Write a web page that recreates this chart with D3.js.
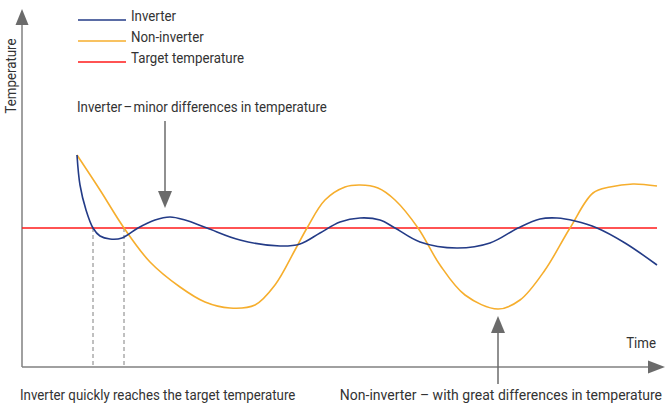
<!DOCTYPE html>
<html>
<head>
<meta charset="utf-8">
<script src="https://cdn.jsdelivr.net/npm/d3@7"></script>
<style>
  body { margin: 0; background: #fff; }
  text { font-family: "Liberation Sans Narrow", "Arial Narrow", "Roboto", sans-serif; fill: #333; }
</style>
</head>
<body>
<svg id="chart" width="667" height="403"></svg>
<script>
// data (time units / temperature units)
const inverterT = [55, 58, 64, 71, 78, 88, 100, 116, 133, 148, 163, 185, 218, 258, 278, 298, 318, 338, 358, 373, 398, 435, 468, 496, 518, 535, 553, 575, 603, 635]
const inverterV = [212, 182, 157, 139, 131, 128, 129, 139, 147, 150, 147, 139, 127, 121, 123, 134, 145, 149, 147, 139, 125, 119, 124, 139, 148, 149, 146, 139, 124, 102]
const nonInverterT = [55, 78, 102, 128, 158, 183, 208, 233, 253, 273, 285, 303, 323, 338, 356, 373, 396, 418, 443, 476, 498, 523, 548, 571, 588, 611, 635]
const nonInverterV = [212, 177, 139, 105, 80, 65, 59, 62, 82, 117, 139, 167, 180, 182, 179, 167, 139, 102, 72, 58, 67, 97, 139, 174, 180, 183, 181]
const targetValue = 139
const quickT = [71, 102]       // dashed markers where inverter reaches target
const legendLabels = ['Inverter', 'Non-inverter', 'Target temperature']

const colours = {
  inverter: '#233b87',
  nonInverter: '#f6ae2d',
  target: '#ff1a1a',
  axis: '#808080',
  arrow: '#6b6b6b'
}

const svg = d3.select('#chart')

const x = d3.scaleLinear().domain([0, 640]).range([22, 662])
const y = d3.scaleLinear().domain([0, 360]).range([367, 7])

// narrow-ish text helper
function label(px, py, str, anchor, sx) {
  return svg.append('text')
    .attr('transform', `translate(${px},${py}) scale(${sx || 0.95},1)`)
    .attr('text-anchor', anchor || 'start')
    .attr('font-size', 14)
    .text(str)
}

// axes
svg.append('line')
  .attr('x1', x(0)).attr('x2', x(630))
  .attr('y1', y(0)).attr('y2', y(0))
  .attr('stroke', colours.axis).attr('stroke-width', 1.5)
svg.append('path')
  .attr('d', `M${x(643)},${y(0)} L${x(626)},${y(0) - 6.5} L${x(626)},${y(0) + 6.5} Z`)
  .attr('fill', colours.arrow)
svg.append('line')
  .attr('x1', x(0)).attr('x2', x(0))
  .attr('y1', y(0)).attr('y2', y(345))
  .attr('stroke', colours.axis).attr('stroke-width', 1.5)
svg.append('path')
  .attr('d', `M${x(0)},${y(358)} L${x(0) - 6.5},${y(342)} L${x(0) + 6.5},${y(342)} Z`)
  .attr('fill', colours.arrow)

svg.append('text')
  .attr('transform', `translate(16,${y(291)}) rotate(-90) scale(0.95,1)`)
  .attr('text-anchor', 'middle')
  .attr('font-size', 14)
  .text('Temperature')
label(656, 348, 'Time', 'end')

// dashed markers
svg.selectAll('line.quick')
  .data(quickT)
  .join('line')
  .attr('class', 'quick')
  .attr('x1', d => x(d)).attr('x2', d => x(d))
  .attr('y1', y(targetValue)).attr('y2', y(0))
  .attr('stroke', '#808080')
  .attr('stroke-dasharray', '4,3')

// target
svg.append('line')
  .attr('x1', x(0)).attr('x2', x(635))
  .attr('y1', y(targetValue)).attr('y2', y(targetValue))
  .attr('stroke', colours.target).attr('stroke-width', 1.5)

const line = d3.line()
  .x(d => x(d[0]))
  .y(d => y(d[1]))
  .curve(d3.curveCatmullRom.alpha(0.5))

svg.append('path')
  .datum(d3.zip(nonInverterT, nonInverterV))
  .attr('d', line)
  .attr('fill', 'none')
  .attr('stroke', colours.nonInverter).attr('stroke-width', 1.6)

svg.append('path')
  .datum(d3.zip(inverterT, inverterV))
  .attr('d', line)
  .attr('fill', 'none')
  .attr('stroke', colours.inverter).attr('stroke-width', 1.6)

// legend
const legendColours = [colours.inverter, colours.nonInverter, colours.target]
const legend = svg.selectAll('g.legend')
  .data(legendLabels)
  .join('g')
  .attr('class', 'legend')
  .attr('transform', (d, i) => `translate(78,${20 + i * 21})`)
legend.append('line')
  .attr('x1', 0).attr('x2', 48)
  .attr('stroke', (d, i) => legendColours[i]).attr('stroke-width', 1.5)
legend.append('text')
  .attr('transform', 'translate(53,1) scale(0.95,1)')
  .attr('font-size', 14)
  .text(d => d)

// annotations
label(77, 112, 'Inverter\u200a\u2013\u200aminor differences in temperature')
svg.append('line')
  .attr('x1', 165).attr('x2', 165).attr('y1', 121).attr('y2', 194)
  .attr('stroke', colours.arrow).attr('stroke-width', 1.5)
svg.append('path')
  .attr('d', 'M165,208 L158,191 L172,191 Z')
  .attr('fill', colours.arrow)

label(20, 400, 'Inverter quickly reaches the target temperature')
label(662, 400, 'Non-inverter \u2013 with great differences in temperature', 'end', 1)
svg.append('line')
  .attr('x1', 498).attr('x2', 498).attr('y1', 384).attr('y2', 330)
  .attr('stroke', colours.arrow).attr('stroke-width', 1.5)
svg.append('path')
  .attr('d', 'M498,316 L491,333 L505,333 Z')
  .attr('fill', colours.arrow)
</script>
</body>
</html>
